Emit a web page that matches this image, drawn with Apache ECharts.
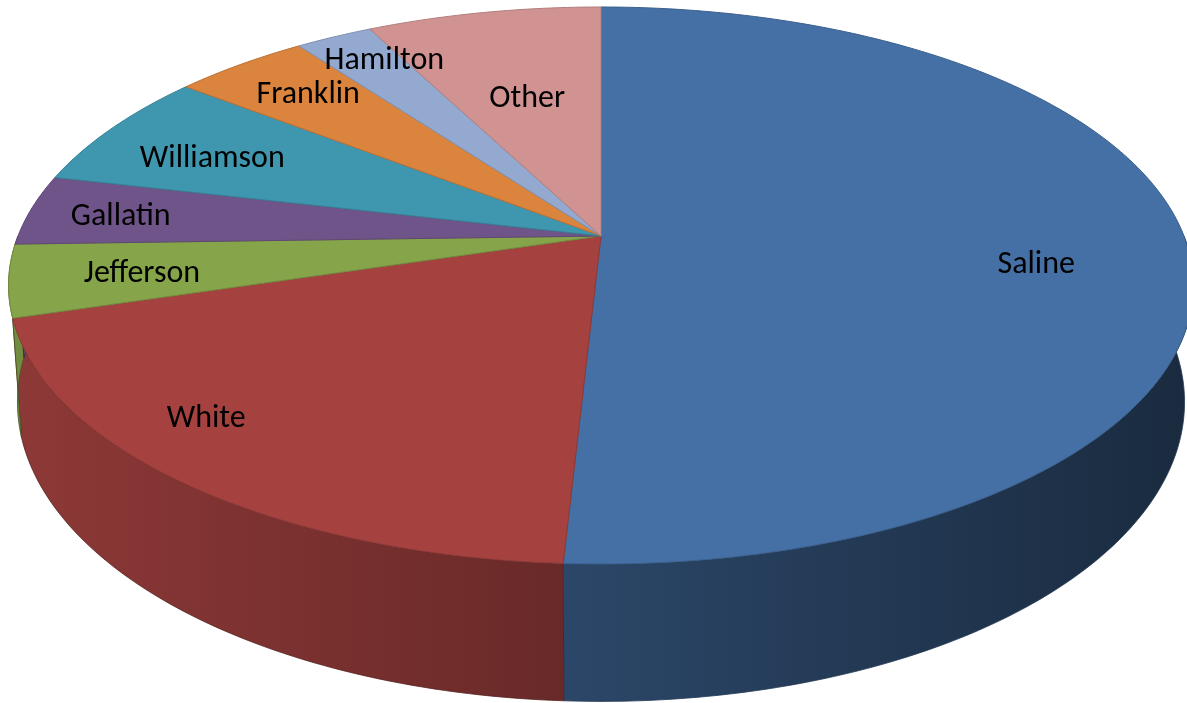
<!DOCTYPE html>
<html><head><meta charset="utf-8">
<script src="https://cdn.jsdelivr.net/npm/echarts@6/dist/echarts.min.js"></script>
<style>html,body{margin:0;padding:0;background:#fff}#c{width:1187px;height:703px}</style>
</head><body><div id="c"></div>
<script>
// ---- data ----
const categories = ['Saline','White','Jefferson','Gallatin','Williamson','Franklin','Hamilton','Other'];
const values = [50.9, 19.5, 4.2, 4.1, 6.9, 4.4, 2.5, 7.6];

// ---- style ----
const colors = ['#4570A5','#A54240','#86A44A','#6F5489','#3F96AF','#DB843D','#93A9CF','#D09392'];
const labelRadius = [0.74,0.85,0.78,0.84,0.77,0.81,0.86,0.59];
const labelTurn = [5.7,7.3,0,0,-1.5,1,2.5,0];
const P = {cx:601, cy:236, R:583, H:269.7, k:0.1777, T:113, m:0.985};

const total = values.reduce((a,b)=>a+b,0);
const starts = []; let acc = 0;
values.forEach(v=>{ starts.push(acc/total*360); acc += v; });

function proj(theta, r, drop){
  const a = theta*Math.PI/180;
  const u = Math.sin(a)*r, v = Math.cos(a)*r;
  const s = 1/(1+P.k*v);
  const mm = drop ? P.m : 1;
  return [P.cx + P.R*u*s*mm, P.cy - P.H*v*s + (drop ? P.T*s : 0)];
}
function shade(hex, f){
  const n = parseInt(hex.slice(1),16);
  const r = Math.round(((n>>16)&255)*f), g = Math.round(((n>>8)&255)*f), b = Math.round((n&255)*f);
  return 'rgb('+r+','+g+','+b+')';
}
function arc(a0, a1, r, drop){
  const pts = []; const n = Math.max(2, Math.ceil(Math.abs(a1-a0)));
  for(let i=0;i<=n;i++) pts.push(proj(a0+(a1-a0)*i/n, r, drop));
  return pts;
}

const chart = echarts.init(document.getElementById('c'), null, {renderer:'canvas'});
const data = values.map((v,i)=>({name:categories[i], value:v}));

chart.setOption({
  animation:false,
  series:[
    {
      type:'custom', coordinateSystem:'none', z:1, data:data,
      renderItem:function(params, api){
        const i = params.dataIndex;
        const a0 = starts[i], a1 = starts[i] + api.value(0)/total*360;
        const c0 = Math.max(a0, 90), c1 = Math.min(a1, 270);
        if (c1 <= c0) return null;
        const top = arc(c0, c1, 1, false);
        const bot = arc(c0, c1, 1, true).reverse();
        return {
          type:'polygon',
          shape:{points: top.concat(bot)},
          style:{
            fill:{type:'linear', x:0, y:0, x2:1187, y2:0, global:true,
              colorStops:[{offset:0,color:shade(colors[i],0.86)},{offset:1,color:shade(colors[i],0.38)}]},
            stroke:shade(colors[i],0.5), lineWidth:0.8
          }
        };
      }
    },
    {
      type:'custom', coordinateSystem:'none', z:2, data:data,
      renderItem:function(params, api){
        const i = params.dataIndex;
        const a0 = starts[i], a1 = starts[i] + api.value(0)/total*360;
        const pts = [[P.cx, P.cy]].concat(arc(a0, a1, 1, false));
        const mid = (a0+a1)/2 + labelTurn[i];
        const lp = proj(mid, labelRadius[i], false);
        return {
          type:'group',
          children:[
            {type:'polygon', shape:{points:pts},
             style:{fill:colors[i], stroke:shade(colors[i],0.85), lineWidth:1}},
            {type:'text', x:lp[0], y:lp[1] + 3, z2:10,
             style:{text:categories[i], fill:'#000', font:'32px Carlito, Lato, sans-serif',
               textAlign:'center', textVerticalAlign:'middle'}}
          ]
        };
      }
    }
  ]
});
</script>
</body></html>
